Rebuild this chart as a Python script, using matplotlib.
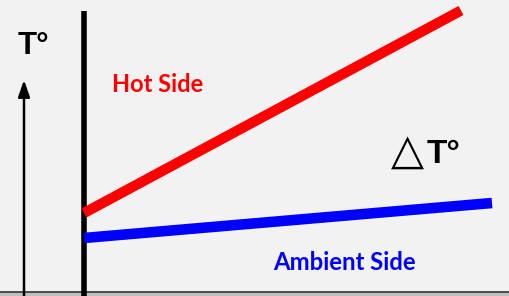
import matplotlib
matplotlib.use("Agg")
import matplotlib.pyplot as plt
from matplotlib.patches import Rectangle

# Data (x = position along the wall, y = temperature in chart units)
hot_x = [84, 461]
hot_y = [83, 285.5]
amb_x = [84, 492]
amb_y = [58, 93]
wall_x = 84.5
wall_top = 285
arrow_x = 24
arrow_top = 216

labels = {"temp": "T°", "hot": "Hot Side", "amb": "Ambient Side", "tri": "△", "delta": "T°"}

W, H = 510, 296
fig = plt.figure(figsize=(W / 100, H / 100), dpi=100)
fig.patch.set_facecolor("#f2f2f2")
ax = fig.add_axes([0, 0, 1, 1])
ax.set_xlim(0, W)
ax.set_ylim(0, H)
ax.axis("off")
ax.set_facecolor("#f2f2f2")

# bottom band
ax.add_patch(Rectangle((0, 0), W, 4.5, facecolor="#bfbfbf", edgecolor="none", zorder=1))
ax.axhline(4.5, color="#404040", lw=1.3, zorder=2)

# wall
ax.plot([wall_x, wall_x], [0, wall_top], color="black", lw=4.0, solid_capstyle="butt", zorder=3)

# temperature arrow
ax.annotate("", xy=(arrow_x, arrow_top), xytext=(arrow_x, 0),
            arrowprops=dict(arrowstyle="-|>,head_length=1.0,head_width=0.35",
                            color="black", lw=1.8, shrinkA=0, shrinkB=0), zorder=3)

# lines
ax.plot(hot_x, hot_y, color="#ff0000", lw=7.4, solid_capstyle="butt", zorder=4)
ax.plot(amb_x, amb_y, color="#0000ff", lw=7.6, solid_capstyle="butt", zorder=4)

# texts
ax.text(18, H - 54, labels["temp"], fontsize=22.5, fontweight="bold",
        family=["Liberation Sans", "DejaVu Sans"], ha="left", va="baseline", color="black")
ax.text(112, H - 92, labels["hot"], fontsize=17, fontweight="bold",
        family=["Lato", "DejaVu Sans"], ha="left", va="baseline", color="#ff0000")
ax.text(273, H - 270, labels["amb"], fontsize=17.2, fontweight="bold",
        family=["Lato", "DejaVu Sans"], ha="left", va="baseline", color="#0000ff")
ax.text(391, H - 164, labels["tri"], fontsize=31,
        family=["DejaVu Sans"], ha="left", va="baseline", color="black")
ax.text(427, H - 163, labels["delta"], fontsize=24, fontweight="bold",
        family=["Liberation Sans", "DejaVu Sans"], ha="left", va="baseline", color="black")

fig.savefig("out.png", dpi=100, facecolor=fig.get_facecolor())
